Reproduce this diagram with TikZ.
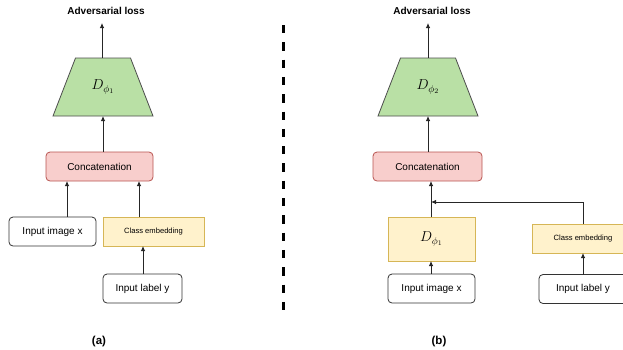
\documentclass[tikz,border=0pt]{standalone}
\usepackage{fontspec}
\setmainfont{Liberation Sans}
\usetikzlibrary{arrows.meta}
\definecolor{gfill}{HTML}{B9E0A5}
\definecolor{gline}{HTML}{4D4D4D}
\definecolor{pfill}{HTML}{F8CECC}
\definecolor{pline}{HTML}{B85450}
\definecolor{yfill}{HTML}{FFF2CC}
\definecolor{yline}{HTML}{D6B656}
\definecolor{bline}{HTML}{333333}
\tikzset{
  every node/.style={inner sep=0pt, outer sep=0pt},
  base/.style={rectangle, line width=0.8pt, font=\fontsize{10}{12}\selectfont},
  whitebox/.style={base, draw=bline, fill=white, rounded corners=4pt, minimum height=29pt},
  pinkbox/.style={base, draw=pline, fill=pfill, rounded corners=4pt, minimum height=29pt},
  yellowbox/.style={base, draw=yline, fill=yfill, minimum height=29pt},
  smalltxt/.style={font=\fontsize{7.6}{9}\selectfont},
  mathlab/.style={font=\fontsize{14}{16}\selectfont},
  discframe/.style={rectangle, minimum width=100pt, minimum height=58pt},
  discfill/.style={draw=gline, fill=gfill, line width=0.8pt, line join=miter},
  title/.style={font=\bfseries\fontsize{10}{12}\selectfont},
  caption/.style={font=\bfseries\fontsize{11.5}{13}\selectfont},
  arr/.style={draw=black!85, line width=0.8pt, -{Latex[length=5pt,width=4.5pt]}},
  divider/.style={line width=3pt, dash pattern=on 8.3pt off 9pt}
}
\begin{document}
\begin{tikzpicture}[x=1pt,y=-1pt]
\clip (0,0) rectangle (623,349);
\useasboundingbox (0,0) rectangle (623,349);
% ---------- (a) ----------
\node[title] (adv1) at (106,11) {Adversarial loss};
\node[discframe] (D1) at (103,87) {};
\path[discfill] (D1.south west) -- (D1.south east) -- ([xshift=-22.5pt]D1.north east) -- ([xshift=22.5pt]D1.north west) -- cycle;
\node[mathlab] (D1lab) at (D1.center) {$D_{\phi_1}$};
\node[pinkbox, minimum width=107pt] (cat1) at (99.5,166.5) {Concatenation};
\node[whitebox, minimum width=87pt] (img1) at (52.5,231.5) {Input image x};
\node[yellowbox, smalltxt, minimum width=101pt] (cls1) at (153.5,231.5) {Class embedding};
\node[whitebox, minimum width=79pt] (lab1) at (142.5,288.5) {Input label y};
\node[caption] (capa) at (99,342) {(a)};
\coordinate (xa1) at (67,0);
\coordinate (xa2) at (139,0);
\coordinate (xa3) at (143,0);
\coordinate (xa4) at (103,0);
\coordinate (top1) at (102,23);
\draw[arr] (img1.north -| xa1) -- (cat1.south -| xa1);
\draw[arr] (cls1.north -| xa2) -- (cat1.south -| xa2);
\draw[arr] (lab1.north -| xa3) -- (cls1.south -| xa3);
\draw[arr] (cat1.north -| xa4) -- (D1.south -| xa4);
\draw[arr] (D1.north -| top1) -- (top1);
% ---------- divider ----------
\coordinate (dtop) at (283,25);
\coordinate (dbot) at (283,311);
\draw[divider] (dtop) -- (dbot);
% ---------- (b) ----------
\node[title] (adv2) at (432,11) {Adversarial loss};
\node[discframe] (D2) at (428,87) {};
\path[discfill] (D2.south west) -- (D2.south east) -- ([xshift=-22.5pt]D2.north east) -- ([xshift=22.5pt]D2.north west) -- cycle;
\node[mathlab] (D2lab) at (D2.center) {$D_{\phi_2}$};
\node[pinkbox, minimum width=109pt] (cat2) at (427.5,166.5) {Concatenation};
\node[yellowbox, mathlab, minimum width=87pt, minimum height=44pt] (Dp) at (431.5,239) {$D_{\phi_1}$};
\node[whitebox, minimum width=87pt] (img2) at (431.5,288.5) {Input image x};
\node[yellowbox, smalltxt, minimum width=102pt] (cls2) at (583,238.5) {Class embedding};
\node[whitebox, minimum width=88pt] (lab2) at (583,289) {Input label y};
\node[caption] (capb) at (439,342) {(b)};
\coordinate (j) at (431,202);
\coordinate (xb1) at (431,0);
\coordinate (xb2) at (428,0);
\coordinate (top2) at (428,23);
\draw[arr] (img2.north -| xb1) -- (Dp.south -| xb1);
\draw[arr] (Dp.north -| xb1) -- (cat2.south -| xb1);
\draw[arr] (cls2.north) |- (j);
\draw[arr] (lab2.north) -- (cls2.south);
\draw[arr] (cat2.north -| xb2) -- (D2.south -| xb2);
\draw[arr] (D2.north -| top2) -- (top2);
\end{tikzpicture}
\end{document}
